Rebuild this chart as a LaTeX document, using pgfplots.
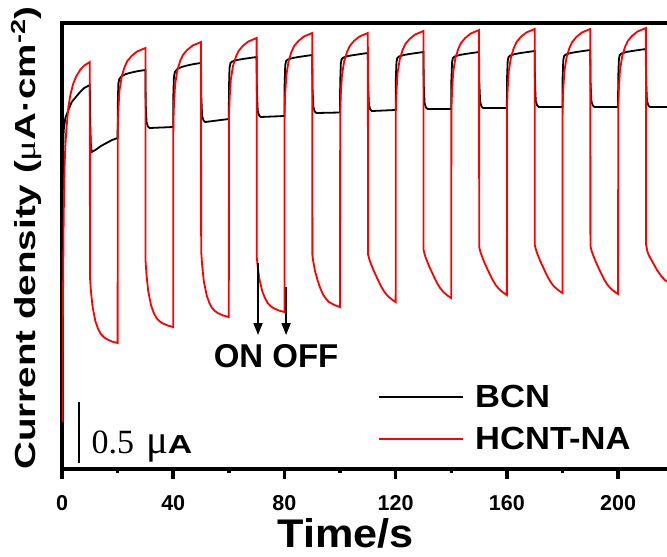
\documentclass[border=0pt]{standalone}
\usepackage{graphicx}
\usepackage{pgfplots}
\pgfplotsset{compat=1.18}
\usetikzlibrary{arrows.meta}
\usepackage{fontspec}
\setmainfont{Liberation Sans}
\newfontfamily\timesfont{Liberation Serif}
\begin{document}
\begin{tikzpicture}
\begin{axis}[
  scale only axis, width=608pt, height=446pt,
  xmin=0, xmax=218.7, ymin=-1, ymax=445,
  axis line style={line width=4pt},
  xtick={0,40,80,120,160,200},
  minor xtick={20,60,100,140,180},
  xtick pos=left, xtick align=outside,
  ytick=\empty,
  major tick length=10pt, minor tick length=4pt,
  every tick/.style={line width=3.5pt, black},
  /pgf/number format/assume math mode=true,
  xticklabel style={font=\bfseries\fontsize{21.5}{22}\selectfont, anchor=base, yshift=-31pt},
  xlabel={\scalebox{1.08}[1]{Time/s}},
  xlabel style={font=\bfseries\fontsize{40}{40}\selectfont, at={(axis description cs:0.4663,0)}, anchor=base, yshift=-78pt},
  ylabel={\scalebox{1.33}[1]{Current density ({\timesfont\mdseries μ}A·cm\textsuperscript{-2})}},
  ylabel style={font=\bfseries\fontsize{29}{30}\selectfont, at={(axis description cs:-0.0444,0.518)}, anchor=base},
  legend cell align=left,
  legend image code/.code={\draw[#1] (0pt,0pt) -- (84pt,0pt); \path (95pt,0pt);},
  legend style={at={(axis cs:113.7,83)}, anchor=north west, draw=none, fill=none, inner sep=0pt,
    row sep=18pt, font=\bfseries\fontsize{32}{34}\selectfont, nodes={inner sep=0pt}},
]
\addplot[black, line width=1.8pt] coordinates {
(0.02,0) (0.15,200) (0.35,310) (0.6,338) (1.2,350) (2.3,358) (3.5,366) (4.7,370) (6.5,376) (8,380) (10,383)
(10.1,350) (10.4,322) (10.7,316) (12,318) (14,322) (16,325) (18,328) (20,330)
(20.05,360) (20.25,384) (20.6,389) (21.5,392) (23,394) (25,395.5) (27.5,397) (30,398)
(30.1,365) (30.4,346) (30.9,341.5) (31.5,340) (40,341)
(40.05,373) (40.25,391) (40.6,396) (41.5,399) (43,401) (45,402.5) (47.5,404) (50,405)
(50.1,371) (50.4,352) (50.9,347.5) (51.5,346) (60,349)
(60.05,380) (60.25,400) (60.6,405) (61.2,406.5) (63,408) (65,409) (67.5,410) (70,411)
(70.1,376) (70.4,357) (70.9,352.5) (71.5,351) (80,352)
(80.05,382) (80.3,403) (80.6,407) (81.2,408.5) (83,410) (85,411) (87.5,412) (90,413)
(90.1,380) (90.4,361) (90.9,356.5) (91.5,355) (100,355.5)
(100.05,385) (100.3,405) (100.6,409) (101.2,410.5) (103,412) (105,413) (107.5,414) (110,415)
(110.1,382) (110.4,363) (110.9,358.5) (111.5,357) (120,358)
(120.05,387) (120.3,406) (120.6,410) (121.2,411.5) (123,413) (125,414) (127.5,415) (130,416)
(130.1,384) (130.4,365) (130.9,360.5) (131.5,359) (140,359)
(140.05,388) (140.3,406) (140.6,410) (141.2,411.5) (143,413) (145,414) (147.5,415) (150,416)
(150.1,385) (150.4,366) (150.9,361.5) (151.5,360) (160,360)
(160.05,389) (160.3,407) (160.6,411) (161.2,412.5) (163,414) (165,415) (167.5,416) (170,417)
(170.1,386) (170.4,367) (170.9,362.5) (171.5,361) (180,361)
(180.05,390) (180.3,408) (180.6,412) (181.2,413.5) (183,415) (185,416) (187.5,417) (190,418)
(190.1,386) (190.4,367) (190.9,362.5) (191.5,361) (200,361)
(200.05,390) (200.3,409) (200.6,413) (201.2,414.5) (203,416) (205,417) (207.5,418) (210,419)
(210.1,386) (210.4,367) (210.9,362.5) (211.5,361) (218.7,361)
};
\addlegendentry{\scalebox{1.08}[1]{BCN}}
\addplot[red, line width=1.8pt] coordinates {
(0.05,46) (0.3,150) (0.6,250) (0.9,300) (1.2,322) (1.6,340) (2.3,361) (3,373) (4,384) (5,391) (6.5,398) (8,402.5) (10,406)
(10.05,191) (10.4,177) (11,161) (12,147) (13,139) (14,134) (15,131) (16,129) (18,126.5) (20,125)
(20.05,340) (20.3,360) (20.7,378) (21.5,392) (22.5,401) (23.5,407) (25,412) (27,416.5) (30,420)
(30.05,207) (30.4,193) (31,177) (32,163) (33,155) (34,150) (35,147) (36,145) (38,142.5) (40,141)
(40.05,346) (40.3,366) (40.7,384) (41.5,398) (42.5,407) (43.5,413) (45,418) (47,422.5) (50,426)
(50.05,217) (50.4,203) (51,187) (52,173) (53,165) (54,160) (55,157) (56,155) (58,152.5) (60,151)
(60.05,350) (60.3,370) (60.7,388) (61.5,402) (62.5,411) (63.5,417) (65,422) (67,426.5) (70,430)
(70.05,211) (70.4,201) (71,189) (72,177) (73,170) (74,165) (75,162) (76,160) (78,157.5) (80,156)
(80.05,355) (80.3,375) (80.7,393) (81.5,407) (82.5,416) (83.5,422) (85,427) (87,431.5) (90,435)
(90.05,213) (90.4,206) (91,197) (92,187) (93,179) (94,173) (95,169) (96,166) (98,163) (100,161)
(100.05,355) (100.3,375) (100.7,393) (101.5,407) (102.5,416) (103.5,422) (105,427) (107,431.5) (110,435)
(110.05,214) (110.5,209) (111,205) (112,198) (113,192) (114,186) (115,180.5) (116,176) (117,172.5) (118,170) (119,167.8) (120,166)
(120.05,357) (120.3,377) (120.7,395) (121.5,409) (122.5,418) (123.5,424) (125,429) (127,433.5) (130,437)
(130.05,218) (130.5,213) (131,209) (132,202) (133,196) (134,190) (135,184.5) (136,180) (137,176.5) (138,174) (139,171.8) (140,170)
(140.05,358) (140.3,378) (140.7,396) (141.5,410) (142.5,419) (143.5,425) (145,430) (147,434.5) (150,438)
(150.05,221) (150.5,216) (151,212) (152,205) (153,199) (154,193) (155,187.5) (156,183) (157,179.5) (158,177) (159,174.8) (160,173)
(160.05,359) (160.3,379) (160.7,397) (161.5,411) (162.5,420) (163.5,426) (165,431) (167,435.5) (170,439)
(170.05,223) (170.5,218) (171,214) (172,207) (173,201) (174,195) (175,189.5) (176,185) (177,181.5) (178,179) (179,176.8) (180,175)
(180.05,359) (180.3,379) (180.7,397) (181.5,411) (182.5,420) (183.5,426) (185,431) (187,435.5) (190,439)
(190.05,222) (190.5,217) (191,213) (192,206) (193,200) (194,194) (195,188.5) (196,184) (197,180.5) (198,178) (199,175.8) (200,174)
(200.05,360) (200.3,380) (200.7,398) (201.5,412) (202.5,421) (203.5,427) (205,432) (207,436.5) (210,440)
(210.05,224) (210.5,217) (211,213) (212,208) (213,203) (214,198) (215.5,192) (217,187.5) (218.7,185)
};
\addlegendentry{\scalebox{1.08}[1]{HCNT-NA}}
\draw[line width=1.8pt, -{Triangle[length=12pt,width=9pt]}] (axis cs:70.5,205) -- (axis cs:70.5,133);
\draw[line width=1.8pt, -{Triangle[length=12pt,width=9pt]}] (axis cs:80.6,181) -- (axis cs:80.6,133);
\node[anchor=base, inner sep=0pt, font=\bfseries\fontsize{33}{33}\selectfont] at (axis cs:77,101) {ON OFF};
\draw[line width=1.8pt] (axis cs:6.1,66) -- (axis cs:6.1,5);
\node[anchor=base west, inner sep=0pt] at (axis cs:10.6,15) {{\timesfont\fontsize{34}{34}\selectfont 0.5\hspace{0.35em}\scalebox{1.2}{μ}}{\bfseries\fontsize{26}{26}\selectfont\scalebox{1.3}[1]{A}}};
\coordinate (bl) at (axis cs:0,-1);
\coordinate (tr) at (axis cs:217.6,445);
\end{axis}
\pgfresetboundingbox
\path[use as bounding box] ([xshift=-62pt,yshift=-87pt]bl) rectangle ([yshift=23pt]tr);
\end{tikzpicture}
\end{document}
